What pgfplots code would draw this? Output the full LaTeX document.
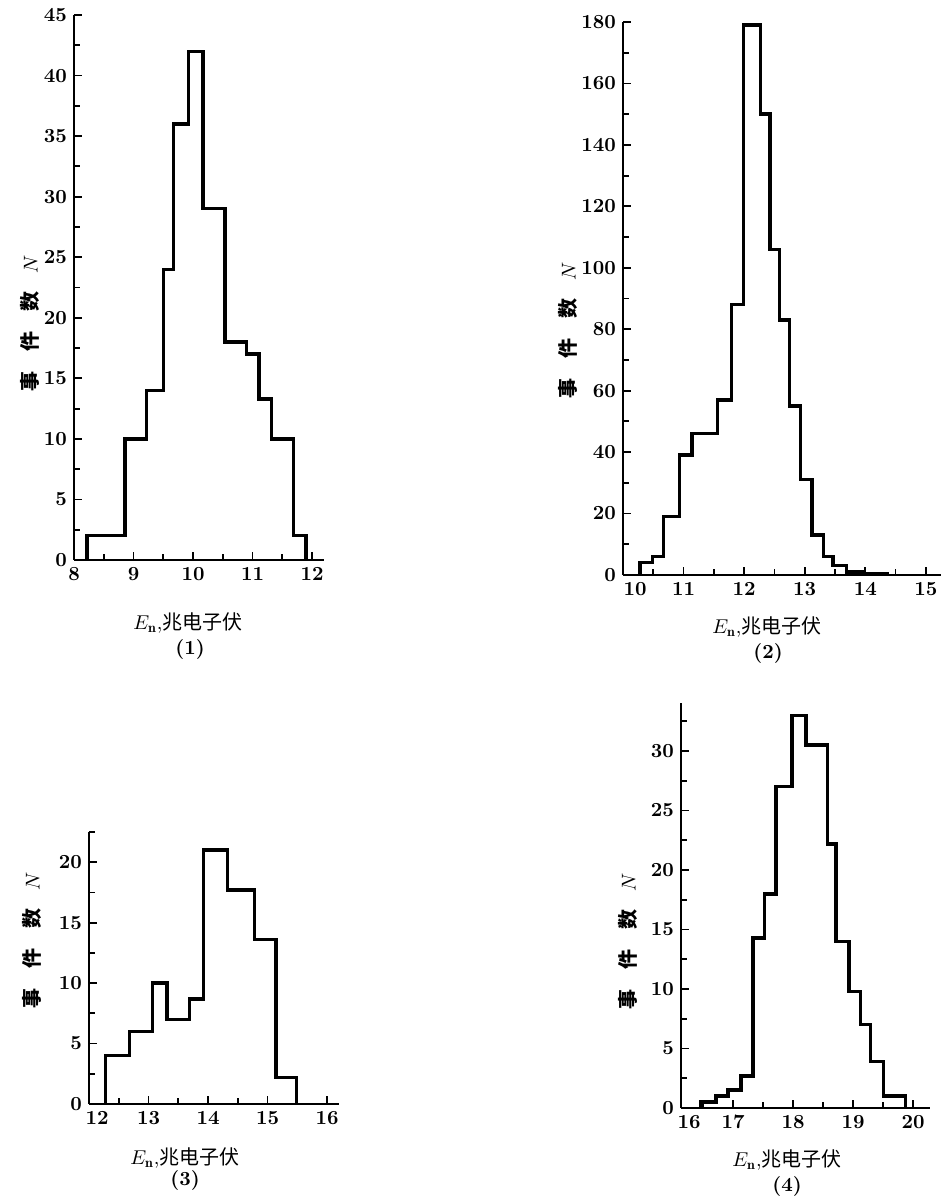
\documentclass[border=0pt]{standalone}
\usepackage{pgfplots}
\pgfplotsset{compat=1.18}
\usepackage{fontspec}
\newfontfamily\cjk{Noto Sans CJK SC}

% common look of the four histograms
\pgfplotsset{hist/.style={
    scale only axis, anchor=south west,
    axis lines=left, axis line style={-, line width=1.2pt},
    tick align=inside, major tick length=4pt, minor tick length=3pt,
    tick style={black, line width=0.9pt},
    minor x tick num=1, minor y tick num=1,
    xtick distance=1, ymin=0,
    tick label style={font=\bfseries},
    /pgf/number format/assume math mode=true,
    clip=false},
  bars/.style={black, line width=1.7pt, const plot, line join=miter},
  firstlab/.style={extra x tick style={major tick length=0pt,
    xticklabel style={xshift=#1}}}}

\newcommand{\ylab}{\cjk\bfseries\fontsize{10}{11}\selectfont 事\hspace{1em}件\hspace{1em}数\hspace{0.9em}\normalfont$N$}
\newcommand{\xlab}{$E_{\mathbf{n}}$,{\cjk\fontsize{10}{11}\selectfont 兆电子伏}}

\begin{document}
\begin{tikzpicture}
\useasboundingbox (0,0) rectangle (470.5pt,600.5pt);

% (1)
\begin{axis}[hist, at={(37pt,320.5pt)}, width=125pt, height=272.5pt,
    xmin=8, xmax=12.2, ymax=45, ytick distance=5]
  \addplot[bars] coordinates {(8.22,0) (8.22,2) (8.86,10) (9.22,14) (9.50,24)
    (9.67,36) (9.92,42) (10.17,29) (10.54,18) (10.90,17) (11.11,13.3)
    (11.32,10) (11.69,2) (11.90,0)};
\end{axis}

% (2)
\begin{axis}[hist, at={(311.5pt,313pt)}, width=159pt, height=276.5pt,
    xmin=10, xmax=15.25, ymax=180, ytick distance=20,
    xtick={10,...,15}, xticklabels={,11,12,13,14,15},
    extra x ticks={10}, extra x tick labels={10}, firstlab=6pt]
  \addplot[bars] coordinates {(10.28,0) (10.28,4) (10.49,6) (10.67,19)
    (10.93,39) (11.14,46) (11.56,57) (11.79,88) (11.99,179) (12.27,150)
    (12.43,106) (12.58,83) (12.75,55) (12.93,31) (13.12,13) (13.31,6)
    (13.47,3) (13.69,1) (13.97,0.5) (14.36,0)};
\end{axis}

% (3)
\begin{axis}[hist, at={(44.5pt,48.5pt)}, width=125pt, height=136pt,
    xmin=12, xmax=16.2, ymax=22.5, ytick distance=5,
    xtick={12,...,16}, xticklabels={,13,14,15,16},
    extra x ticks={12}, extra x tick labels={12}, firstlab=4pt]
  \addplot[bars] coordinates {(12.28,0) (12.28,4) (12.68,6) (13.07,10)
    (13.31,7) (13.69,8.7) (13.92,21) (14.33,17.7) (14.78,13.6) (15.14,2.2)
    (15.49,0)};
\end{axis}

% (4)
\begin{axis}[hist, at={(340.5pt,46.5pt)}, width=124.5pt, height=202.3pt,
    xmin=16.13, xmax=20.28, ymax=34, ytick distance=5,
    extra x ticks={16.13}, extra x tick labels={16}, firstlab=4pt]
  \addplot[bars] coordinates {(16.46,0) (16.46,0.5) (16.71,1) (16.91,1.5)
    (17.13,2.7) (17.33,14.3) (17.52,18) (17.71,27) (17.98,33) (18.21,30.5)
    (18.57,22.2) (18.71,14) (18.93,9.8) (19.12,7) (19.29,3.9) (19.50,1)
    (19.87,0)};
\end{axis}

% axis titles and panel numbers
\node at (94pt,289pt) {\xlab};
\node[font=\bfseries] at (95pt,276pt) {(1)};
\node at (383.5pt,287pt) {\xlab};
\node[font=\bfseries] at (384pt,274pt) {(2)};
\node at (92.5pt,21.5pt) {\xlab};
\node[font=\bfseries] at (92.5pt,10.5pt) {(3)};
\node at (393.5pt,20.5pt) {\xlab};
\node[font=\bfseries] at (393.5pt,7.5pt) {(4)};

\node[rotate=90] at (15pt,439pt) {\ylab};
\node[rotate=90] at (284pt,435.5pt) {\ylab};
\node[rotate=90] at (16pt,130.5pt) {\ylab};
\node[rotate=90] at (314pt,130pt) {\ylab};
\end{tikzpicture}
\end{document}
